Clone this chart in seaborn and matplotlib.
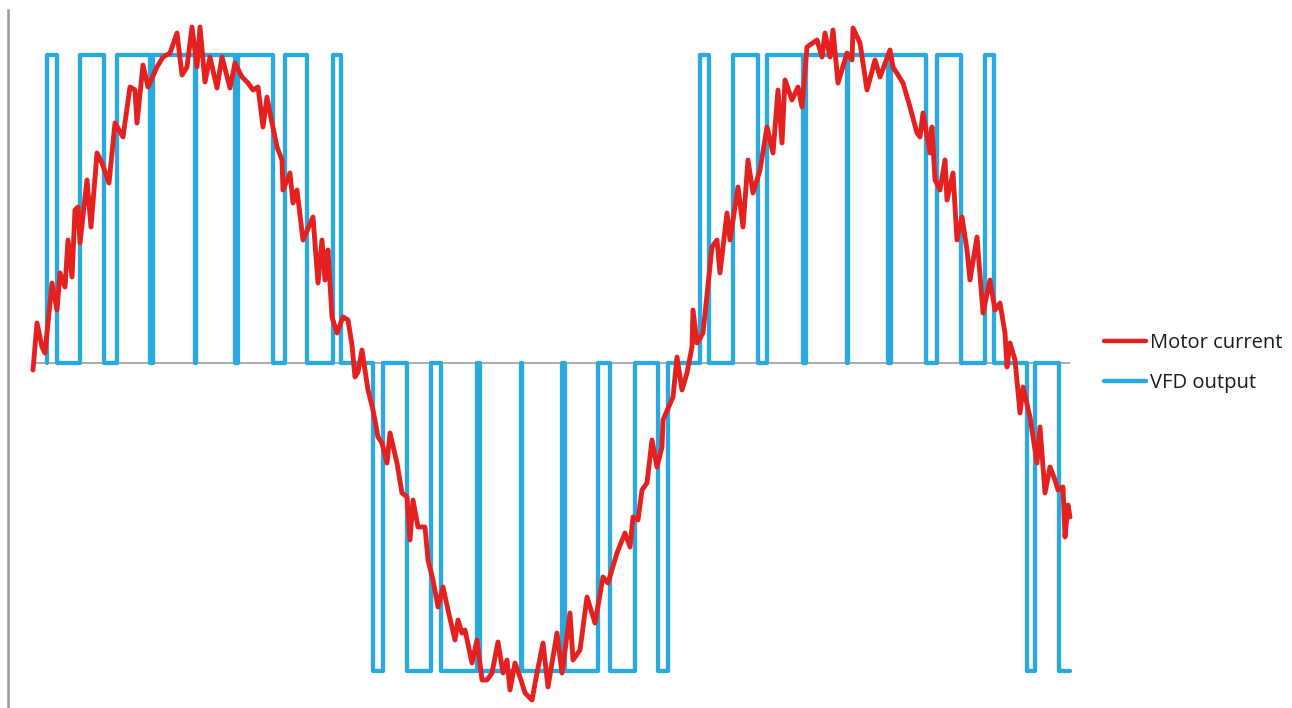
import numpy as np
import pandas as pd
import matplotlib
matplotlib.use("Agg")
import matplotlib.pyplot as plt
import seaborn as sns
from matplotlib.lines import Line2D

# ---------------- data ----------------
# Motor current samples: time and value
current_t = [33, 37, 42, 45, 52, 57, 60, 65, 68, 72, 75, 78, 80, 87, 91, 97, 102, 109, 115, 123,
             130, 135, 137, 143, 148, 157, 163, 170, 177, 182, 187, 192, 197, 200, 205, 210, 217, 222, 230, 235,
             242, 248, 253, 258, 263, 267, 270, 277, 282, 283, 290, 293, 297, 303, 313, 318, 322, 325, 328, 332,
             337, 343, 348, 352, 355, 358, 362, 368, 373, 378, 382, 387, 390, 397, 402, 407, 410, 413, 418, 425,
             428, 433, 438, 443, 448, 455, 458, 462, 465, 472, 477, 482, 487, 492, 498, 503, 507, 510, 515, 520,
             525, 532, 537, 543, 548, 557, 562, 570, 573, 580, 587, 595, 603, 608, 617, 625, 630, 633, 638, 642,
             647, 652, 657, 662, 663, 673, 677, 682, 687, 692, 693, 697, 703, 712, 717, 720, 727, 730, 738, 743,
             748, 753, 760, 767, 773, 778, 782, 785, 792, 798, 802, 807, 817, 822, 825, 830, 833, 838, 847, 852,
             853, 860, 867, 875, 880, 890, 893, 903, 910, 917, 920, 923, 930, 932, 935, 940, 945, 947, 953, 957,
             962, 967, 970, 977, 983, 990, 995, 1000, 1005, 1007, 1010, 1015, 1020, 1023, 1030, 1037, 1040, 1045, 1050, 1055,
             1058, 1063, 1065, 1068, 1070]
current_v = [-7, 40, 16, 10, 80, 53, 90, 76, 123, 86, 153, 156, 120, 183, 136, 210, 200, 180, 240, 226,
             276, 273, 240, 298, 276, 296, 306, 310, 330, 288, 296, 336, 296, 336, 281, 306, 275, 306, 275, 300,
             286, 280, 273, 276, 236, 266, 250, 216, 203, 173, 190, 160, 173, 123, 146, 80, 123, 83, 113, 46,
             30, 46, 43, 18, -14, -9, 13, -27, -47, -74, -80, -100, -70, -100, -130, -134, -177, -137, -164, -164,
             -197, -217, -244, -224, -247, -277, -257, -270, -267, -300, -277, -317, -317, -310, -279, -310, -297, -327, -300, -314,
             -330, -337, -310, -280, -324, -270, -310, -250, -297, -287, -234, -260, -214, -220, -190, -170, -184, -154, -157, -127,
             -120, -77, -104, -84, -57, -34, 6, -27, -10, 16, 53, 20, 30, 116, 123, 90, 150, 123, 176, 136,
             203, 170, 193, 236, 210, 273, 220, 283, 263, 276, 256, 316, 323, 306, 330, 306, 333, 280, 310, 303,
             335, 320, 273, 303, 286, 313, 296, 280, 256, 230, 226, 250, 210, 236, 183, 173, 203, 163, 190, 123,
             146, 113, 83, 126, 50, 83, 53, 60, 30, -4, 20, 3, -50, -24, -54, -100, -64, -130, -104, -117,
             -127, -124, -174, -142, -154]

# VFD output: pulses (start, end, sign)
pulse_start = [47, 80, 117, 153, 195.5, 238, 285, 333,
               373, 407, 441, 480, 521.5, 565, 610, 658,
               700, 733, 767, 806, 847.5, 891, 937, 985,
               1027, 1059]
pulse_end = [57, 104, 150, 195, 235, 273, 307, 341,
             383, 431, 477, 521, 562, 598, 635, 668,
             709, 758, 803, 847, 888, 926, 961, 994,
             1035, 1070]
pulse_sign = [1] * 8 + [-1] * 8 + [1] * 8 + [-1] * 2
vfd_amplitude = 308

series_names = ["Motor current", "VFD output"]
colors = ["#E5211F", "#2AA9E0"]

# ---------------- build step waveform ----------------
vt, vv = [], []
for s, e, sg in zip(pulse_start, pulse_end, pulse_sign):
    vt += [s, s, e, e]
    vv += [0, sg * vfd_amplitude, sg * vfd_amplitude, 0]
# last pulse finishes at its low level (trace ends there)
vt = vt[:-1]
vv = vv[:-1]

cur_df = pd.DataFrame({"t": current_t, "v": current_v})
vfd_df = pd.DataFrame({"t": vt, "v": vv})

# ---------------- figure ----------------
sns.set_theme(style="white")
plt.rcParams["font.family"] = ["Open Sans", "DejaVu Sans"]

W, H = 1292, 708
fig = plt.figure(figsize=(W / 100, H / 100), dpi=100)
ax = fig.add_axes([8 / W, 0, 1 - 8 / W, 698 / H])
ax.set_xlim(8, 1292)
ax.set_ylim(-345, 353)

# zero reference line
ax.hlines(0, current_t[0], pulse_end[-1], color="#A6A6A6", lw=1.3, zorder=1)

sns.lineplot(data=vfd_df, x="t", y="v", sort=False, estimator=None, ax=ax,
             color=colors[1], lw=3.1, zorder=2)
sns.lineplot(data=cur_df, x="t", y="v", sort=False, estimator=None, ax=ax,
             color=colors[0], lw=3.5, zorder=3, solid_joinstyle="round")

for side in ["top", "right", "bottom"]:
    ax.spines[side].set_visible(False)
ax.spines["left"].set_color("#9A9A9A")
ax.spines["left"].set_linewidth(1.8)
ax.set_xticks([])
ax.set_yticks([])
ax.set_xlabel("")
ax.set_ylabel("")
ax.patch.set_alpha(0)

handles = [Line2D([], [], color=colors[0], lw=3.2),
           Line2D([], [], color=colors[1], lw=3.2)]
fig.legend(handles, series_names, loc="center left",
           bbox_to_anchor=(1104 / W, 1 - 363 / H), bbox_transform=fig.transFigure,
           frameon=False, fontsize=14.5, handlelength=2.1, handletextpad=0.2,
           labelspacing=0.95, borderpad=0, borderaxespad=0, labelcolor="#1a1a1a")

fig.savefig("out.png", dpi=100)
